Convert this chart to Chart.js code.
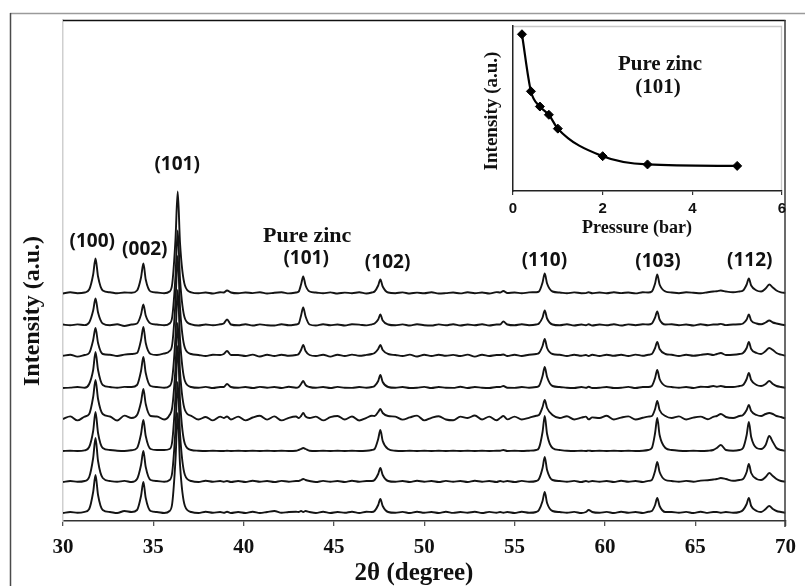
<!DOCTYPE html>
<html><head><meta charset="utf-8">
<script src="https://cdn.jsdelivr.net/npm/chart.js@4.4.1/dist/chart.umd.min.js"></script>
<style>
html,body{margin:0;padding:0;background:#fff;}
#wrap{position:relative;width:805px;height:586px;overflow:hidden;background:#fff;}
#main{position:absolute;left:0;top:0;}
#inset{position:absolute;left:470px;top:14px;}
</style></head><body>
<div id="wrap"><canvas id="main" width="805" height="586"></canvas><canvas id="inset" width="330" height="230"></canvas></div>
<script>
// ---------------- DATA ----------------
const twoTheta = [
  30.0, 30.4, 30.8, 31.2,
  31.45, 31.67, 31.8, 31.94, 32.2,
  32.6, 33.0, 33.4, 33.8,
  34.1, 34.32, 34.45, 34.58, 34.85,
  35.2, 35.6, 35.9,
  36.05, 36.23, 36.35, 36.48, 36.75,
  37.1, 37.5, 37.9, 38.3, 38.7,
  38.9, 39.08, 39.3,
  39.7, 40.1, 40.5, 40.9, 41.3, 41.7, 42.1, 42.5, 42.9,
  43.05, 43.18, 43.3, 43.43, 43.65,
  44.0, 44.4, 44.8, 45.2, 45.6, 46.0, 46.4, 46.8, 47.1,
  47.25, 47.45, 47.57, 47.7, 48.0,
  48.4, 48.8, 49.2, 49.6, 50.0, 50.4, 50.8, 51.2, 51.6, 52.0, 52.4, 52.8, 53.2, 53.6, 54.0,
  54.2, 54.38, 54.6,
  55.0, 55.4, 55.8, 56.2,
  56.35, 56.55, 56.67, 56.8, 57.1,
  57.5, 57.9, 58.3, 58.7,
  58.95, 59.1, 59.3,
  59.7, 60.1, 60.5, 60.9, 61.3, 61.7, 62.1, 62.4,
  62.6, 62.78, 62.9, 63.03, 63.35,
  63.7, 64.1, 64.5, 64.9, 65.3, 65.7, 66.0,
  66.2, 66.42, 66.7,
  67.1, 67.45,
  67.65, 67.85, 67.97, 68.1, 68.4,
  68.65, 68.9, 69.1, 69.3, 69.5, 69.75, 70.0
];

// relative intensities (a.u.) of each pattern, top pattern first
const trace1 = [
  0, 1.2, 0.3, 1,
  4, 19, 35, 17, 3,
  1.2, 0.2, 1, 0.8,
  3, 16, 30, 14, 2,
  1, 0.3, 2,
  10, 55, 102, 50, 8,
  1.2, 0.3, 1, 0, 1.3,
  1, 3, 1,
  0.2, 1, 0.4, 1.3, 0, 0.8, 1.2, 0.1, 1,
  2, 9, 17, 8, 2,
  1, 0.2, 1.1, 0, 0.9, 0.3, 1.2, 0, 1,
  2, 8, 14, 7, 1,
  0.3, 1.1, 0, 0.9, 0.2, 1.2, 0, 0.4, 1, 0.1, 1.2, 0.3, 1, 0, 1.4,
  1, 2.5, 0.5,
  1, 0.2, 1.1, 1.3,
  2, 11, 20, 10, 2,
  1, 0.2, 1.1, 0.3,
  0.4, 1.2, 0.3,
  1, 0.2, 1.2, 0.4, 1, 0.1, 1.2, 1,
  2, 10, 19, 9, 2,
  1, 0.3, 1.2, 0.8, 0.2, 1.3, 2,
  2.3, 3, 2,
  1.2, 2,
  3, 9, 15, 8, 3,
  2, 5, 9, 6, 3, 1.2, 0.5
];
const trace2 = [
  1, 0.2, 1.1, 0.4,
  3, 15, 27, 13, 2,
  0.3, 1.2, -0.5, 1,
  2, 11, 21, 10, 2,
  1, 0.2, 2,
  9, 50, 95, 46, 7,
  1.2, 0, 1, 0.3, 1.2,
  2, 6, 1,
  0.2, 1.3, 0, 1.1, 0.3, 0, 1.2, 0.2, 1,
  2, 10, 18, 9, 1,
  0, 1.2, 0.2, 1, 0, 1.3, 0.9, 0.1, 1.2,
  2, 6, 11, 5, 1,
  0.2, 1.1, 0, 1.2, 0.3, 0, 1.1, 0.2, 1.3, 0, 1, 0.2, 1.2, 0, 1,
  1, 4, 1,
  0.2, 1.2, 0.3, 1,
  2, 8, 15, 7, 1,
  0.2, 1.2, 0, 1,
  0.3, 1.2, 0,
  1, 0.2, 1.3, 0, 1.1, 0.3, 1.2, 1,
  2, 8, 14, 6, 1,
  1.2, 0.3, 1, 0, 1.2, 0.2, 1,
  1, 1.6, 0.4,
  1, 1.2,
  2, 6, 11, 5, 2,
  1.2, 3, 5, 3, 2, 1, 0.3
];
const trace3 = [
  0.2, 1.3, -0.6, 1,
  3, 16, 28, 13, 2,
  1.2, 0, 1.4, 2,
  3, 16, 29, 13, 2,
  1, 2.5, 5,
  12, 55, 100, 48, 8,
  2, 1, 0, 1.3, 1,
  2, 5, 1,
  1, 0, 1.4, -0.5, 1.2, 0, 1.3, 0.2, 1,
  2, 6, 11, 5, 1,
  0, 1.3, -0.6, 1.2, 0, 1.4, 0.2, 1.1, 2,
  3, 7, 11, 6, 2,
  1, 0, 1.4, -0.5, 1.2, 0, 1.3, 0.2, 1.1, 0, 1.4, -0.6, 1.2, 0, 1,
  1, 1.5, 0,
  1.2, 0, 1.3, 2,
  3, 10, 17, 8, 2,
  1.2, 0, 1.3, 0.2,
  1, 0, 1.2,
  0, 1.3, 0.2, 1.2, 0, 1.4, 0.2, 1.2,
  2, 8, 14, 7, 2,
  1.2, 0, 1.3, 0.3, 1.1, 2, 1,
  2, 3, 1,
  1.2, 2,
  3, 8, 14, 7, 3,
  2, 5, 8, 6, 3, 1.3, 0.3
];
const trace4 = [
  0, 0.4, 1, 0.2,
  4, 18, 36, 18, 3,
  1, 0.2, 1.1, 1,
  3, 17, 31, 15, 2,
  1, 0.2, 2,
  10, 52, 98, 48, 7,
  1, 0.2, 1.1, 0, 1,
  1, 4, 1,
  0.2, 1, 0, 1.1, 0.3, 1, 0, 1.2, 0.3,
  1, 4, 7, 3, 1,
  0.2, 1, 0, 1.1, 0.2, 0.1, 1, 0.3, 1,
  2, 7, 13, 6, 1,
  0.2, 1, 0, 0.3, 1.1, 0, 1, 0.2, 0.1, 1.2, 0, 1, 0.3, 0, 1,
  1, 2, 0.2,
  0.1, 1, 0.2, 1,
  2, 12, 21, 11, 2,
  1, 0.2, 0, 1,
  0.2, 1.2, 0,
  0.2, 1, 0, 0.2, 1.1, 0, 1, 1,
  2, 10, 18, 9, 2,
  1, 0.2, 1, 0, 1.2, 1, 2,
  1.2, 2, 1,
  1, 2,
  3, 9, 15, 8, 3,
  2, 4, 7, 4, 2, 1, 0.2
];
const trace5 = [
  0, 2.6, -1.4, 2.4,
  5, 22, 39, 20, 5,
  2.5, -1.5, 3.4, 1,
  4, 17, 30, 15, 3,
  2.5, -0.5, 4,
  12, 52, 96, 47, 9,
  3.2, -0.5, 2, -1.4, 2.4,
  1, 2.5, -0.5,
  2.4, -1.4, 1.5, 3.3, -0.6, 2.6, -1.4, 1.2, 2.5,
  1, 3, 6, 2.5, 1,
  2.4, -1.4, 1.8, 3, -0.5, 2.5, -1.5, 1.2, 3.2,
  3, 7, 10, 6, 3,
  2.4, -0.6, 1.6, 3.4, -1.4, 1.2, 2.8, -0.5, -1.3, 2.4, 1, 3.5, -0.5, 2.4, -1.3,
  1, 3, -0.4,
  2.4, -0.5, 1.2, 3.2,
  4, 12, 19, 11, 4,
  1, 2.8, -0.5, 1.3,
  2.4, -0.4, 1.6,
  1, 3.2, -0.5, 1.4, 2.6, -0.5, 1.2, 2.4,
  3, 10, 18, 9, 3,
  1, 2.6, -0.5, 1.4, 2.4, -0.3, 2.2,
  3, 5, 2,
  1, 3,
  4, 9, 14, 8, 4,
  3, 5, 6, 5, 3, 2, 0.5
];
const trace6 = [
  0, 0.3, 0, 0.6,
  4, 20, 39, 18, 3,
  1, 0.3, 0, 0.8,
  3, 17, 31, 15, 2,
  1, 1, 2,
  10, 56, 105, 50, 7,
  1, 0.3, 0, 0.2, 0,
  0, 0.3, 0,
  0.2, 0, 0.3, 0, 0.2, 0, 0.3, 0, 0.2,
  1, 2, 3, 2, 0.3,
  0, 0.2, 0, 0.3, 0, 0.2, 0, 0.3, 1,
  2, 12, 21, 10, 2,
  0.3, 0, 0.2, 0, 0.3, 0, 0.2, 0, 0.3, 0, 0.2, 0, 0.3, 0, 0.2,
  0.3, 1, 0,
  0.2, 0, 0.3, 1,
  3, 19, 35, 17, 3,
  1, 0.3, 0, 0.2,
  0, 0.4, 0,
  0.2, 0, 0.3, 0, 0.2, 0, 0.3, 1,
  3, 18, 33, 16, 3,
  1, 0.3, 0, 0.2, 0, 0.3, 1,
  3, 6, 1,
  0.3, 1,
  3, 16, 29, 14, 3,
  2, 6, 15, 9, 3, 1, 0.2
];
const trace7 = [
  0, 1, 0.2, 1,
  5, 24, 44, 21, 4,
  1, 0.2, 1.1, 0,
  3, 17, 31, 15, 2,
  1, 0.2, 2,
  10, 54, 100, 48, 7,
  1, 0, 1.2, 0.2, 1,
  0.2, 1, 0,
  1, 0, 1.2, 0.2, 1, 0, 1.1, 0.3, 1,
  1, 2, 3, 2, 1,
  0, 1.1, 0.2, 1, 0, 1.2, 0.2, 1, 1,
  2, 8, 14, 7, 1,
  0.2, 1, 0, 1.2, 0.3, 1, 0, 1.1, 0.2, 1, 0, 1.2, 0.3, 1, 0,
  1, 0.3, 1,
  0, 1.1, 0.2, 1,
  3, 14, 25, 12, 2,
  1, 0.2, 1.1, 0,
  1, 0.3, 1,
  0.2, 1, 0, 1.2, 0.2, 1, 0, 1.1,
  2, 11, 20, 10, 2,
  1, 0.2, 1.1, 0.3, 1.4, 1.8, 2.5,
  3, 4, 3,
  1.2, 2,
  3, 10, 18, 9, 3,
  2, 5, 9, 6, 3, 1, 0.3
];
const trace8 = [
  0, 1, 0.2, 1.2,
  4, 21, 38, 18, 3,
  1, 0, 2, 1,
  3, 17, 31, 15, 2,
  1, 0, 2,
  10, 54, 100, 48, 7,
  1, 0, 1.2, 0.2, 1,
  0.2, 1.2, 0,
  1, 0, 1.3, 0, 1, 2, 0.2, 1, 1.2,
  1, 2, 1, 2, 1,
  0, 1.2, 0, 1, 0.2, 1.3, 0, 1.2, 1,
  2, 8, 14, 7, 1,
  0.2, 1.1, 0, 1.3, 0.2, 1, 0, 1.2, 0.1, 1, 0.3, 1.2, 0, 1.1, 0.2,
  1, 0.3, 1,
  0, 1.2, 0.2, 1,
  3, 12, 21, 10, 2,
  1, 0.2, 1.1, 0,
  1, 3, 1,
  0.2, 1.1, 0, 1.2, 0.2, 1, 0, 1.2,
  2, 8, 15, 7, 1,
  1, 0.2, 1.1, 0, 1.2, 0.1, 1,
  1, 0.3, 1,
  0.2, 1,
  3, 9, 15, 7, 2,
  1, 4, 7, 4, 2, 1, 0.3
];
// vertical stacking offset of each pattern
const traceOffsets = [227.5, 195.5, 165, 133, 102, 70, 39, 8];
const xTicks = [30, 35, 40, 45, 50, 55, 60, 65, 70];
const peakLabels = ['(100)', '(002)', '(101)', 'Pure zinc', '(101)', '(102)', '(110)', '(103)', '(112)'];
const peakLabelAt = [31.62, 34.53, 36.32, 43.52, 43.46, 47.97, 56.65, 62.94, 68.02];

// inset
const pressure = [0.2, 0.4, 0.6, 0.8, 1.0, 2, 3, 5];
const insetIntensity = [95, 60.4, 51.2, 46.2, 37.8, 21.1, 16.1, 15.2];
const insetTicks = [0, 2, 4, 6];

// ---------------- CHECK ----------------
const traces = [trace1, trace2, trace3, trace4, trace5, trace6, trace7, trace8];
traces.forEach((t, i) => { if (t.length !== twoTheta.length) throw new Error('trace' + (i + 1) + ' length ' + t.length + ' vs ' + twoTheta.length); });

// ---------------- MAIN CHART ----------------
const SERIF = '"Liberation Serif", "Times New Roman", serif';
const SANS = '"Open Sans", Lato, sans-serif';
const labelY = [241.7, 250, 165, 236, 258.3, 262.7, 260.7, 261.7, 260.7];
const LF = '700 19px ' + SANS;
const labelFont = [LF, LF, LF, '700 22px ' + SERIF, LF, LF, LF, LF, LF];

const mainDeco = {
  id: 'mainDeco',
  beforeDraw(chart) {
    const c = chart.ctx;
    c.save();
    c.fillStyle = '#fff';
    c.fillRect(0, 0, chart.width, chart.height);
    // outer frame
    c.strokeStyle = '#9a9a9a'; c.lineWidth = 1.5;
    c.beginPath(); c.moveTo(10, 13.5); c.lineTo(805, 13.5); c.stroke();
    c.strokeStyle = '#4a4a4a';
    c.beginPath(); c.moveTo(10.5, 13); c.lineTo(10.5, 586); c.stroke();
    c.restore();
  },
  afterDraw(chart) {
    const c = chart.ctx, a = chart.chartArea, xs = chart.scales.x;
    c.save();
    c.lineWidth = 1.6; c.strokeStyle = '#111';
    c.beginPath(); c.moveTo(a.left, a.top + 0.5); c.lineTo(a.right, a.top + 0.5); c.stroke();
    c.strokeStyle = '#3a3a3a'; c.lineWidth = 1.5;
    c.beginPath(); c.moveTo(a.right - 0.5, a.top); c.lineTo(a.right - 0.5, a.bottom + 6); c.stroke();
    c.fillStyle = '#111'; c.textAlign = 'center'; c.textBaseline = 'middle';
    peakLabels.forEach((t, i) => {
      c.font = labelFont[i];
      c.fillText(t, xs.getPixelForValue(peakLabelAt[i]), labelY[i]);
    });
    c.font = '700 25px ' + SERIF;
    c.fillText('2\u03b8 (degree)', 414, 574);
    c.translate(33, 311); c.rotate(-Math.PI / 2);
    c.font = '700 24px ' + SERIF;
    c.fillText('Intensity (a.u.)', 0, 0);
    c.restore();
  }
};

new Chart(document.getElementById('main'), {
  type: 'line',
  data: {
    datasets: traces.map((t, i) => ({
      data: twoTheta.map((x, j) => ({ x: x, y: t[j] + traceOffsets[i] })),
      borderColor: '#141414', borderWidth: 1.9, pointRadius: 0, fill: false,
      cubicInterpolationMode: 'monotone'
    }))
  },
  options: {
    responsive: false, animation: false, devicePixelRatio: 1,
    layout: { padding: { left: 0, top: 20, right: 14, bottom: 0 } },
    plugins: { legend: { display: false }, tooltip: { enabled: false } },
    scales: {
      x: {
        type: 'linear', min: 30, max: 70,
        afterBuildTicks: s => { s.ticks = xTicks.map(v => ({ value: v })); },
        ticks: { font: { family: SERIF, size: 21, weight: 'bold' }, color: '#111', padding: 9, maxRotation: 0, autoSkip: false },
        grid: { drawOnChartArea: false, drawTicks: true, tickLength: 5, color: '#555', lineWidth: 1.3 },
        border: { display: true, color: '#333', width: 1.5 },
        afterFit: s => { s.height = 65; }
      },
      y: {
        min: 0, max: 501,
        ticks: { display: false },
        grid: { display: false, drawTicks: false },
        border: { display: true, color: '#cfcfcf', width: 1.5 },
        afterFit: s => { s.width = 63; }
      }
    }
  },
  plugins: [mainDeco]
});

// ---------------- INSET CHART ----------------
const OX = 470, OY = 14;
const insetDeco = {
  id: 'insetDeco',
  beforeDraw(chart) {
    const c = chart.ctx, a = chart.chartArea;
    c.save();
    c.strokeStyle = '#c8c8c8'; c.lineWidth = 1.3;
    c.beginPath(); c.moveTo(a.left, a.top + 0.5); c.lineTo(a.right - 0.5, a.top + 0.5); c.lineTo(a.right - 0.5, a.bottom); c.stroke();
    c.restore();
  },
  afterDraw(chart) {
    const c = chart.ctx;
    c.save();
    c.fillStyle = '#111'; c.textAlign = 'center'; c.textBaseline = 'middle';
    c.font = '700 21px ' + SERIF;
    c.fillText('Pure zinc', 660 - OX, 65 - OY);
    c.fillText('(101)', 658 - OX, 88 - OY);
    c.font = '700 18px ' + SERIF;
    c.fillText('Pressure (bar)', 637 - OX, 228 - OY);
    c.translate(492 - OX, 111 - OY); c.rotate(-Math.PI / 2);
    c.font = '700 19px ' + SERIF;
    c.fillText('Intensity (a.u.)', 0, 0);
    c.restore();
  }
};

new Chart(document.getElementById('inset'), {
  type: 'line',
  data: {
    datasets: [{
      data: pressure.map((p, i) => ({ x: p, y: insetIntensity[i] })),
      borderColor: '#000', borderWidth: 2.2,
      pointStyle: 'rectRot', pointRadius: 4.5, pointBackgroundColor: '#000', pointBorderColor: '#000', pointBorderWidth: 1,
      cubicInterpolationMode: 'monotone', fill: false, clip: false
    }]
  },
  options: {
    responsive: false, animation: false, devicePixelRatio: 1,
    layout: { padding: { left: 0, top: 12, right: 18, bottom: 0 } },
    plugins: { legend: { display: false }, tooltip: { enabled: false } },
    scales: {
      x: {
        type: 'linear', min: 0, max: 6,
        afterBuildTicks: s => { s.ticks = insetTicks.map(v => ({ value: v })); },
        ticks: { font: { family: '"Liberation Sans", Arial, sans-serif', size: 15, weight: 'bold' }, color: '#111', padding: 5, maxRotation: 0, autoSkip: false },
        grid: { drawOnChartArea: false, drawTicks: true, tickLength: 4, color: '#333', lineWidth: 1.2 },
        border: { display: true, color: '#222', width: 1.5 },
        afterFit: s => { s.height = 53; }
      },
      y: {
        min: 0, max: 100,
        ticks: { display: false },
        grid: { display: false, drawTicks: false },
        border: { display: true, color: '#222', width: 1.5 },
        afterFit: s => { s.width = 43; }
      }
    }
  },
  plugins: [insetDeco]
});
</script>
</body></html>
